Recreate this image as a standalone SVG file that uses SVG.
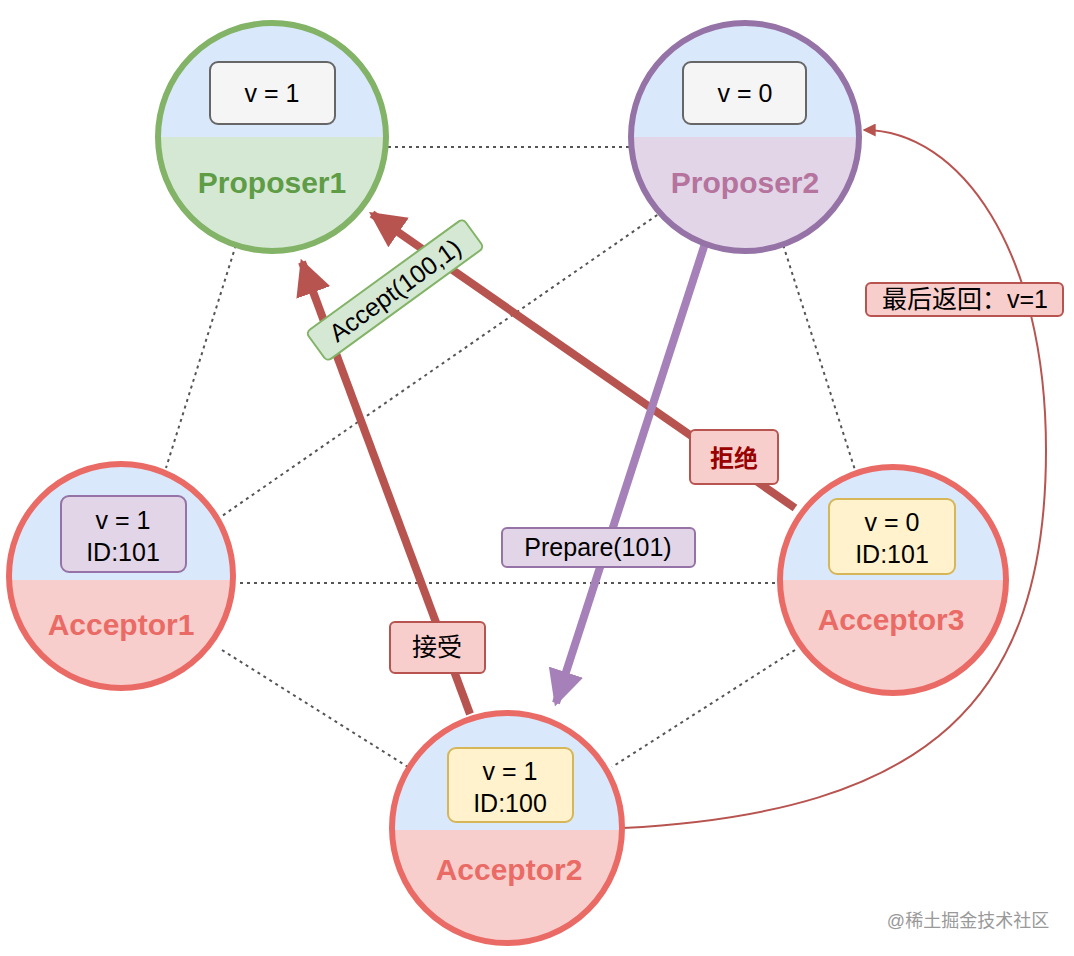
<svg xmlns="http://www.w3.org/2000/svg" width="1074" height="956" viewBox="0 0 1074 956">
<style>
text{font-family:"Liberation Sans","Noto Sans CJK SC",sans-serif;text-anchor:middle}
.t{font-size:25px;fill:#000}
.lab{font-size:30px;font-weight:bold}
.dot{stroke:#555;stroke-width:2;stroke-dasharray:3 4;fill:none}
</style>
<defs>
<clipPath id="c1"><circle cx="272" cy="137" r="114"/></clipPath>
<clipPath id="c2"><circle cx="745" cy="137" r="114"/></clipPath>
<clipPath id="c3"><circle cx="121" cy="576" r="112"/></clipPath>
<clipPath id="c4"><circle cx="893" cy="580" r="113"/></clipPath>
<clipPath id="c5"><circle cx="507" cy="828" r="115"/></clipPath>
<marker id="arr" viewBox="0 0 10 10" refX="9" refY="5" markerWidth="4.5" markerHeight="4.5" orient="auto"><path d="M0,0L10,5L0,10Z" fill="#b85450"/></marker>
<marker id="arp" viewBox="0 0 10 10" refX="9" refY="5" markerWidth="4.5" markerHeight="4.5" orient="auto"><path d="M0,0L10,5L0,10Z" fill="#a680b8"/></marker>
<marker id="ars" viewBox="0 0 10 10" refX="9" refY="5" markerWidth="13" markerHeight="13" orient="auto" markerUnits="userSpaceOnUse"><path d="M0,0L10,5L0,10Z" fill="#b85450"/></marker>
</defs>
<g id="connectors">
<path class="dot" d="M388,147H630M240,232L166,468M779,232L855,470M240,583H776M222,650L408,767M795,650L612,767M663,211L222,516"/>
<path d="M470,714L302,262" stroke="#b85450" stroke-width="8" fill="none" marker-end="url(#arr)"/>
<path d="M795,508L372,214" stroke="#b85450" stroke-width="8" fill="none" marker-end="url(#arr)"/>
<path d="M712,222L556,703" stroke="#a680b8" stroke-width="8" fill="none" marker-end="url(#arp)"/>
<path d="M623,828C930,812 1046,700 1046,450C1046,250 960,130 864,130" stroke="#b85450" stroke-width="2" fill="none" marker-end="url(#ars)"/>
</g>
<g id="proposer1">
<g clip-path="url(#c1)"><rect x="150" y="20" width="250" height="117" fill="#dae8fc"/><rect x="150" y="137" width="250" height="120" fill="#d5e8d4"/></g>
<circle cx="272" cy="137" r="114" fill="none" stroke="#82b366" stroke-width="6"/>
<rect x="210" y="62" width="125" height="62" rx="8" fill="#f5f5f5" stroke="#666" stroke-width="2"/>
<text class="t" x="272" y="102">v = 1</text>
<text class="lab" x="272" y="193" fill="#5e9c46">Proposer1</text>
</g>
<g id="proposer2">
<g clip-path="url(#c2)"><rect x="620" y="20" width="250" height="117" fill="#dae8fc"/><rect x="620" y="137" width="250" height="120" fill="#e1d5e7"/></g>
<circle cx="745" cy="137" r="114" fill="none" stroke="#9673a6" stroke-width="6"/>
<rect x="683" y="62" width="123" height="62" rx="8" fill="#f5f5f5" stroke="#666" stroke-width="2"/>
<text class="t" x="745" y="102">v = 0</text>
<text class="lab" x="745" y="193" fill="#b5739d">Proposer2</text>
</g>
<g id="acceptor1">
<g clip-path="url(#c3)"><rect x="0" y="460" width="240" height="120" fill="#dae8fc"/><rect x="0" y="580" width="240" height="120" fill="#f8cecc"/></g>
<circle cx="121" cy="576" r="112" fill="none" stroke="#ea6b66" stroke-width="6"/>
<rect x="61" y="496" width="125" height="76" rx="8" fill="#e1d5e7" stroke="#9673a6" stroke-width="2"/>
<text class="t" x="123" y="529">v = 1</text><text class="t" x="123" y="561">ID:101</text>
<text class="lab" x="121" y="635" fill="#ea6b66">Acceptor1</text>
</g>
<g id="acceptor3">
<g clip-path="url(#c4)"><rect x="775" y="460" width="240" height="120" fill="#dae8fc"/><rect x="775" y="580" width="240" height="120" fill="#f8cecc"/></g>
<circle cx="893" cy="580" r="113" fill="none" stroke="#ea6b66" stroke-width="6"/>
<rect x="829" y="499" width="126" height="75" rx="8" fill="#fff2cc" stroke="#d6b656" stroke-width="2"/>
<text class="t" x="892" y="531">v = 0</text><text class="t" x="892" y="563">ID:101</text>
<text class="lab" x="891" y="630" fill="#ea6b66">Acceptor3</text>
</g>
<g id="acceptor2">
<g clip-path="url(#c5)"><rect x="385" y="705" width="245" height="125" fill="#dae8fc"/><rect x="385" y="830" width="245" height="120" fill="#f8cecc"/></g>
<circle cx="507" cy="828" r="115" fill="none" stroke="#ea6b66" stroke-width="6"/>
<rect x="448" y="748" width="125" height="74" rx="8" fill="#fff2cc" stroke="#d6b656" stroke-width="2"/>
<text class="t" x="510" y="780">v = 1</text><text class="t" x="510" y="812">ID:100</text>
<text class="lab" x="509" y="880" fill="#ea6b66">Acceptor2</text>
</g>
<g id="labels">
<g transform="translate(395,290) rotate(-36)"><rect x="-97" y="-18" width="194" height="36" rx="5" fill="#d5e8d4" stroke="#82b366" stroke-width="2"/><text class="t" x="0" y="9">Accept(100,1)</text></g>
<rect x="690" y="430" width="88" height="54" rx="5" fill="#f8cecc" stroke="#b85450" stroke-width="2"/><text x="734" y="467" font-size="24" font-weight="bold" fill="#990000">拒绝</text>
<rect x="502" y="528" width="193" height="39" rx="5" fill="#e1d5e7" stroke="#9673a6" stroke-width="2"/><text class="t" x="598" y="556">Prepare(101)</text>
<rect x="390" y="622" width="95" height="51" rx="5" fill="#f8cecc" stroke="#b85450" stroke-width="2"/><text class="t" x="437" y="656">接受</text>
<rect x="866" y="283" width="197" height="33" rx="5" fill="#f8cecc" stroke="#b85450" stroke-width="2"/><text class="t" x="965" y="308" font-size="22">最后返回：v=1</text>
<text x="968" y="927" font-size="18" fill="#999">@稀土掘金技术社区</text>
</g>
</svg>
